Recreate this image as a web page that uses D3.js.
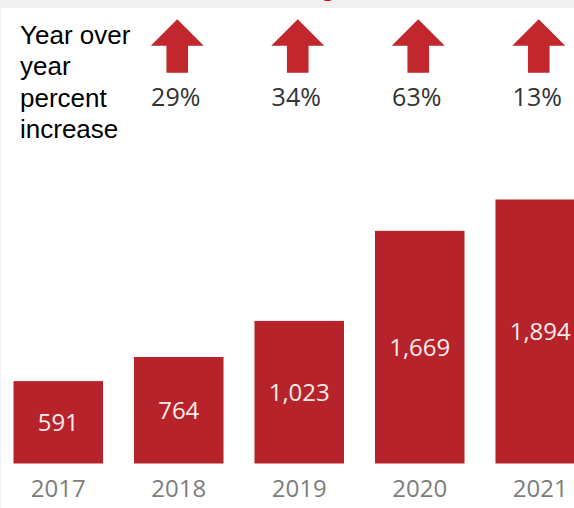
<!DOCTYPE html>
<html>
<head>
<meta charset="utf-8">
<script src="https://cdn.jsdelivr.net/npm/d3@7/dist/d3.min.js"></script>
<style>
  html, body { margin: 0; padding: 0; background: #ffffff; }
  svg { display: block; }
</style>
</head>
<body>
<div id="chart"></div>
<script>
// Annual totals and year-over-year growth
const years = ["2017", "2018", "2019", "2020", "2021"];
const totals = [591, 764, 1023, 1669, 1894];
const growthYears = ["2018", "2019", "2020", "2021"];
const growthLabels = ["29%", "34%", "63%", "13%"];
const sideNote = ["Year over", "year", "percent", "increase"];

const W = 574, H = 508;
const red = "#b6232a";
const arrowRed = "#c1272d";

const svg = d3.select("#chart").append("svg")
  .attr("width", W).attr("height", H);

// page frame: light grey header strip and thin left edge
svg.append("rect").attr("x", 0).attr("y", 0).attr("width", W).attr("height", H).attr("fill", "#f0f0f0");
svg.append("rect").attr("x", 1).attr("y", 8).attr("width", W - 1).attr("height", H - 8).attr("fill", "#ffffff");

// descender of the heading above the visible area
svg.append("text")
  .attr("x", 320).attr("y", -4)
  .attr("font-family", "Liberation Sans, Arial, sans-serif")
  .attr("font-size", 26).attr("font-weight", "bold")
  .attr("fill", "#e00000")
  .text("g");

const x = d3.scaleBand()
  .domain(years)
  .range([13.5, 585])
  .paddingInner(0.257)
  .paddingOuter(0);

const y = d3.scaleLinear()
  .domain([0, 2000])
  .range([463.5, 184.7]);

const valueFont = "'Open Sans', 'Noto Sans', sans-serif";

// bars
svg.append("g").selectAll("rect")
  .data(years)
  .join("rect")
  .attr("x", d => x(d))
  .attr("y", (d, i) => y(totals[i]))
  .attr("width", x.bandwidth())
  .attr("height", (d, i) => y(0) - y(totals[i]))
  .attr("fill", red);

// value labels centred in each bar
svg.append("g").selectAll("text")
  .data(years)
  .join("text")
  .attr("x", d => x(d) + x.bandwidth() / 2)
  .attr("y", (d, i) => (y(totals[i]) + y(0)) / 2)
  .attr("dy", "0.36em")
  .attr("text-anchor", "middle")
  .attr("font-family", valueFont)
  .attr("font-size", 24)
  .attr("fill", "#fbecec")
  .text((d, i) => d3.format(",")(totals[i]));

// year axis labels
const xAxis = d3.axisBottom(x).tickSize(0).tickPadding(0);
const axisG = svg.append("g")
  .attr("transform", `translate(0, ${y(0)})`)
  .call(xAxis);
axisG.select(".domain").remove();
axisG.selectAll("text")
  .attr("dy", 0)
  .attr("y", 33.5)
  .attr("font-family", valueFont)
  .attr("font-size", 24)
  .attr("fill", "#7d7d7d");

// growth arrows above each year after the first
const arrowShape = "M0,0 L26.5,26.4 L10.8,26.4 L10.8,53.4 L-10.8,53.4 L-10.8,26.4 L-26.5,26.4 Z";
svg.append("g").selectAll("path")
  .data(growthYears)
  .join("path")
  .attr("transform", d => `translate(${x(d) + x.bandwidth() / 2 - 1.5}, 19.3)`)
  .attr("d", arrowShape)
  .attr("fill", arrowRed);

svg.append("g").selectAll("text")
  .data(growthYears)
  .join("text")
  .attr("x", d => x(d) + x.bandwidth() / 2 - 3)
  .attr("y", 106)
  .attr("text-anchor", "middle")
  .attr("font-family", valueFont)
  .attr("font-size", 25)
  .attr("fill", "#333333")
  .text((d, i) => growthLabels[i]);

// side note
svg.append("g").selectAll("text")
  .data(sideNote)
  .join("text")
  .attr("x", 20)
  .attr("y", (d, i) => 43.5 + i * 31.6)
  .attr("font-family", "Liberation Sans, Arial, sans-serif")
  .attr("font-size", 26)
  .attr("fill", "#000000")
  .text(d => d);
</script>
</body>
</html>
